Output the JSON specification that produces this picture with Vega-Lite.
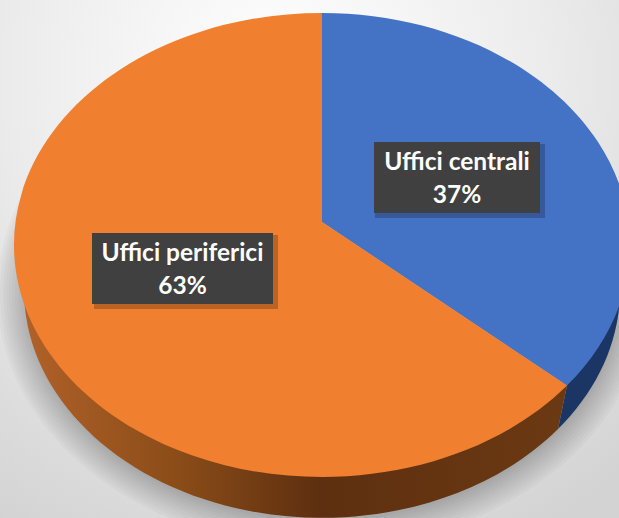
{
"$schema":"https://vega.github.io/schema/vega-lite/v6.json",
"width":619,"height":518,"padding":0,"autosize":{"type":"none"},
"background":"#ffffff",
"view":{"stroke":null},
"datasets":{
"slices":[{"category":"Uffici centrali","share":0.37},{"category":"Uffici periferici","share":0.63}],
"shadow":[{"ring":1},{"ring":2},{"ring":3},{"ring":4},{"ring":5},{"ring":6},{"ring":7},{"ring":8},{"ring":9},{"ring":10}]
},
"data":{"name":"slices"},
"resolve":{"scale":{"x":"independent","y":"independent","shape":"independent"}},
"layer":[
{"data":{"values":[{"part":"sfondo"}]},
 "mark":{"type":"point","filled":true,"opacity":1,"size":4,"strokeWidth":0,"shape":"M-322,-245H297V273H-322Z",
  "fill":{"gradient":"radial","x1":0.45,"y1":0.2,"r1":0,"x2":0.45,"y2":0.2,"r2":0.85,"stops":[{"offset":0,"color":"#ffffff"},{"offset":0.5,"color":"#ececec"},{"offset":1,"color":"#d3d3d3"}]}},
 "encoding":{
  "x":{"datum":0,"type":"quantitative","scale":{"domain":[-322,297],"range":[0,619]},"axis":null},
  "y":{"datum":0,"type":"quantitative","scale":{"domain":[-245,273],"range":[0,518]},"axis":null}}},
{"data":{"name":"shadow"},
 "mark":{"type":"point","filled":true,"opacity":0.025,"color":"#000000","size":4,"strokeWidth":0},
 "encoding":{
  "x":{"datum":0,"type":"quantitative","scale":{"domain":[-322,297],"range":[0,619]},"axis":null},
  "y":{"datum":0,"type":"quantitative","scale":{"domain":[-245,273],"range":[0,518]},"axis":null},
  "shape":{"field":"ring","type":"nominal","legend":null,"scale":{"domain":[1,2,3,4,5,6,7,8,9,10],"range":[
   "M-325,48A325 255 0 1 0 325,48A325 255 0 1 0 -325,48Z",
   "M-322,48A322 252 0 1 0 322,48A322 252 0 1 0 -322,48Z",
   "M-319,48A319 249 0 1 0 319,48A319 249 0 1 0 -319,48Z",
   "M-316,48A316 246 0 1 0 316,48A316 246 0 1 0 -316,48Z",
   "M-313,48A313 243 0 1 0 313,48A313 243 0 1 0 -313,48Z",
   "M-310,48A310 240 0 1 0 310,48A310 240 0 1 0 -310,48Z",
   "M-307,48A307 237 0 1 0 307,48A307 237 0 1 0 -307,48Z",
   "M-304,48A304 234 0 1 0 304,48A304 234 0 1 0 -304,48Z",
   "M-301,48A301 231 0 1 0 301,48A301 231 0 1 0 -301,48Z",
   "M-298,48A298 228 0 1 0 298,48A298 228 0 1 0 -298,48Z"]}}}},
{"transform":[{"filter":"datum.category==='Uffici centrali'"}],
 "mark":{"type":"point","filled":true,"opacity":1,"size":4,"strokeWidth":0,"shape":"M245,140.6L236,184A298 228 0 0 0 298,45L308,0Z","fill":"#1b3565"},
 "encoding":{
  "x":{"datum":0,"type":"quantitative","scale":{"domain":[-322,297],"range":[0,619]},"axis":null},
  "y":{"datum":0,"type":"quantitative","scale":{"domain":[-245,273],"range":[0,518]},"axis":null}}},
{"transform":[{"filter":"datum.category==='Uffici periferici'"}],
 "mark":{"type":"point","filled":true,"opacity":1,"size":4,"strokeWidth":0,"shape":"M-308,0L-298,45A298 228 0 0 0 236,184L245,140.6L0,0Z",
  "fill":{"gradient":"linear","x1":0,"y1":0,"x2":1,"y2":0,"stops":[{"offset":0,"color":"#b3622a"},{"offset":0.3,"color":"#8a4c18"},{"offset":0.55,"color":"#5e2f10"},{"offset":1,"color":"#6b3a13"}]}},
 "encoding":{
  "x":{"datum":0,"type":"quantitative","scale":{"domain":[-322,297],"range":[0,619]},"axis":null},
  "y":{"datum":0,"type":"quantitative","scale":{"domain":[-245,273],"range":[0,518]},"axis":null}}},
{"mark":{"type":"point","filled":true,"opacity":1,"size":4,"strokeWidth":0},
 "encoding":{
  "x":{"datum":0,"type":"quantitative","scale":{"domain":[-322,297],"range":[0,619]},"axis":null},
  "y":{"datum":0,"type":"quantitative","scale":{"domain":[-245,273],"range":[0,518]},"axis":null},
  "shape":{"field":"category","type":"nominal","legend":null,"scale":{"domain":["Uffici centrali","Uffici periferici"],"range":[
   "M0,-23L0,-232A308 232 0 0 1 245,140.6Z",
   "M0,-23L245,140.6A308 232 0 1 1 0,-232Z"]}},
  "color":{"field":"category","type":"nominal","legend":null,"scale":{"domain":["Uffici centrali","Uffici periferici"],"range":["#4472c4","#f07f2f"]}}}},
{"mark":{"type":"point","filled":true,"opacity":0.22,"size":4,"strokeWidth":0,"color":"#000000"},
 "encoding":{
  "x":{"field":"category","type":"nominal","axis":null,"scale":{"type":"point","padding":0,"domain":["Uffici centrali","Uffici periferici"],"range":[460,186]}},
  "y":{"field":"category","type":"nominal","axis":null,"scale":{"type":"point","padding":0,"domain":["Uffici centrali","Uffici periferici"],"range":[181,272]}},
  "shape":{"field":"category","type":"nominal","legend":null,"scale":{"domain":["Uffici centrali","Uffici periferici"],"range":["M-85,-37H85V37H-85Z","M-92,-37H92V37H-92Z"]}}}},
{"mark":{"type":"point","filled":true,"opacity":1,"size":4,"strokeWidth":0,"color":"#404040"},
 "encoding":{
  "x":{"field":"category","type":"nominal","axis":null,"scale":{"type":"point","padding":0,"domain":["Uffici centrali","Uffici periferici"],"range":[457,182.5]}},
  "y":{"field":"category","type":"nominal","axis":null,"scale":{"type":"point","padding":0,"domain":["Uffici centrali","Uffici periferici"],"range":[177.5,268.5]}},
  "shape":{"field":"category","type":"nominal","legend":null,"scale":{"domain":["Uffici centrali","Uffici periferici"],"range":["M-83,-35.5H83V35.5H-83Z","M-90.5,-35.5H90.5V35.5H-90.5Z"]}}}},
{"mark":{"type":"text","font":"Lato","fontWeight":"bold","fontSize":24.5,"color":"#ffffff","align":"center","baseline":"middle","dy":-15},
 "encoding":{
  "x":{"field":"category","type":"nominal","axis":null,"scale":{"type":"point","padding":0,"domain":["Uffici centrali","Uffici periferici"],"range":[457,182.5]}},
  "y":{"field":"category","type":"nominal","axis":null,"scale":{"type":"point","padding":0,"domain":["Uffici centrali","Uffici periferici"],"range":[177.5,268.5]}},
  "text":{"field":"category","type":"nominal"}}},
{"mark":{"type":"text","font":"Lato","fontWeight":"bold","fontSize":24.5,"color":"#ffffff","align":"center","baseline":"middle","dy":18},
 "encoding":{
  "x":{"field":"category","type":"nominal","axis":null,"scale":{"type":"point","padding":0,"domain":["Uffici centrali","Uffici periferici"],"range":[457,182.5]}},
  "y":{"field":"category","type":"nominal","axis":null,"scale":{"type":"point","padding":0,"domain":["Uffici centrali","Uffici periferici"],"range":[177.5,268.5]}},
  "text":{"field":"share","type":"quantitative","format":".0%"}}}
]
}
